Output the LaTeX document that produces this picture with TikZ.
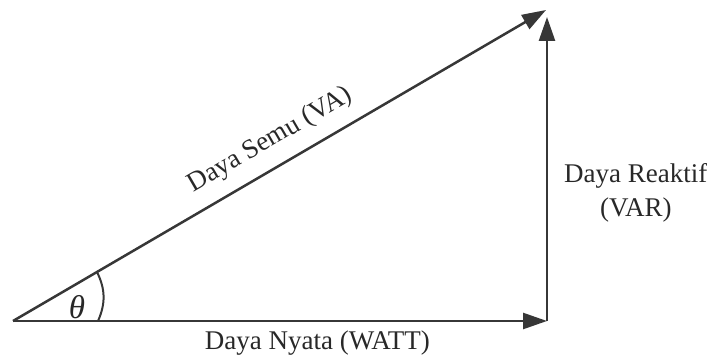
\documentclass[tikz,border=0pt]{standalone}
\usepackage{fontspec}
\setmainfont{Liberation Serif}
\usepackage{xcolor}
\usetikzlibrary{arrows.meta, positioning, calc}
\definecolor{inkgray}{RGB}{55,55,55}
\definecolor{textgray}{RGB}{40,40,40}

\begin{document}
\begin{tikzpicture}[x=1pt, y=1pt, >={Triangle[length=24pt, width=16pt]}]
  \tikzstyle{vec} = [->, line width=2.5pt, inkgray]
  \tikzstyle{lbl} = [font=\fontsize{27}{34}\selectfont, text=textgray, inner sep=0pt, align=center]

  \useasboundingbox (0,0) rectangle (707,362);

  \coordinate (o) at (13,41);
  \coordinate (p) at (547,41);
  \coordinate (q) at (547,345);
  \coordinate (r) at (546,352);
  \coordinate (a1) at (98,41);
  \coordinate (a2) at (97,90);

  \draw[vec] (o) -- (p) node[lbl, pos=0.57, below=9pt] (nyata) {Daya Nyata (WATT)};
  \draw[vec] (p) -- (q);
  \draw[vec] (o) -- (r) node[lbl, sloped, pos=0.508, above=13pt] (semu) {Daya Semu (VA)};
  \node[lbl, right=17pt of $(p)!0.42!(q)$] (reaktif) {Daya Reaktif\\(VAR)};

  \draw[line width=2pt, inkgray] (a1) to[bend right=25] (a2);
  \node[lbl, font=\fontsize{33}{33}\selectfont\itshape] (theta) at ($(o)+(64,14)$) {θ};
\end{tikzpicture}
\end{document}
